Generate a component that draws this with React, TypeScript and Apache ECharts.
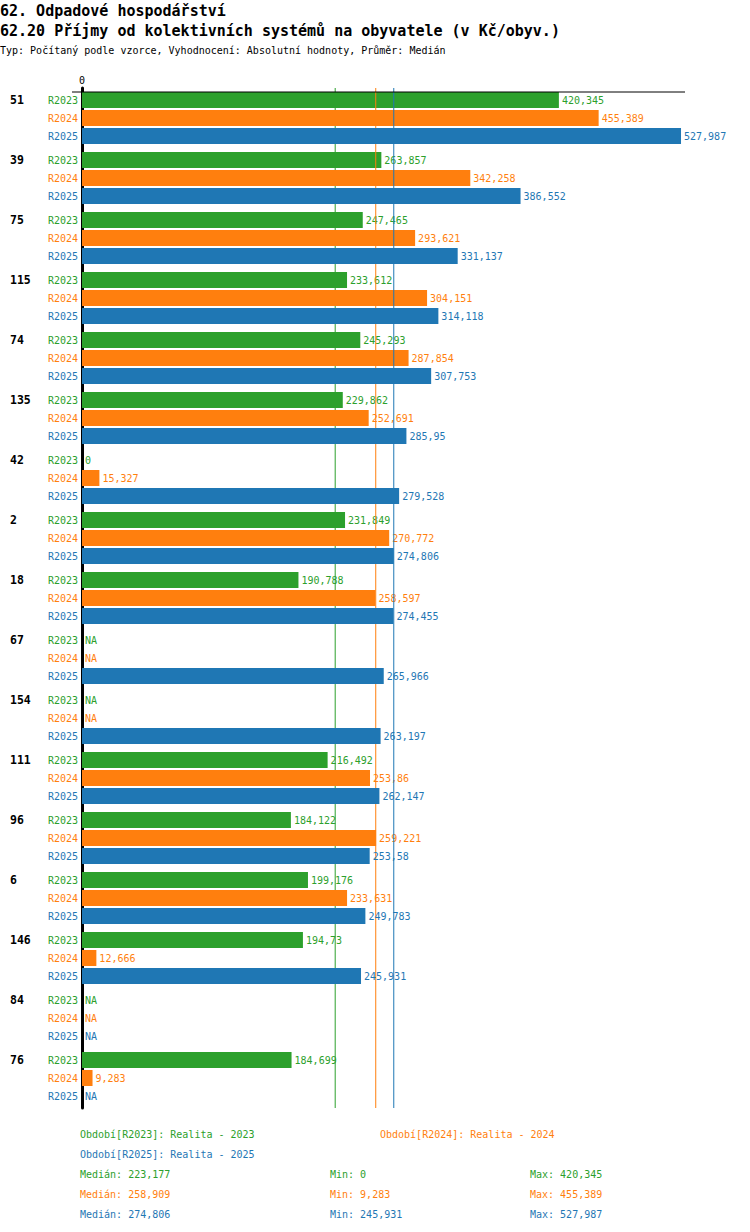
import React, { useEffect, useRef } from 'react';
import * as echarts from 'echarts';

const MONO = '"DejaVu Sans Mono", "Liberation Mono", monospace';

const GROUPS = ['51', '39', '75', '115', '74', '135', '42', '2', '18', '67', '154', '111', '96', '6', '146', '84', '76'];
const R2023 = [420.345, 263.857, 247.465, 233.612, 245.293, 229.862, 0, 231.849, 190.788, null, null, 216.492, 184.122, 199.176, 194.73, null, 184.699];
const R2024 = [455.389, 342.258, 293.621, 304.151, 287.854, 252.691, 15.327, 270.772, 258.597, null, null, 253.86, 259.221, 233.631, 12.666, null, 9.283];
const R2025 = [527.987, 386.552, 331.137, 314.118, 307.753, 285.95, 279.528, 274.806, 274.455, 265.966, 263.197, 262.147, 253.58, 249.783, 245.931, null, null];

const PERIODS = [
    { key: 'R2023', name: 'Realita - 2023', color: '#2ca02c', data: R2023 },
    { key: 'R2024', name: 'Realita - 2024', color: '#ff7f0e', data: R2024 },
    { key: 'R2025', name: 'Realita - 2025', color: '#1f77b4', data: R2025 },
];

const TITLE = '62. Odpadové hospodářství';
const SUBTITLE = '62.20 Příjmy od kolektivních systémů na obyvatele (v Kč/obyv.)';
const INFO = 'Typ: Počítaný podle vzorce, Vyhodnocení: Absolutní hodnoty, Průměr: Medián';

const fmt = (v: number | null) => (v == null ? 'NA' : String(v).replace('.', ','));

const valid = (arr: (number | null)[]) => arr.filter((v): v is number => v != null).sort((a, b) => a - b);
const median = (arr: (number | null)[]) => {
    const s = valid(arr);
    const m = Math.floor(s.length / 2);
    return s.length % 2 ? s[m] : Math.round(((s[m - 1] + s[m]) / 2) * 1000) / 1000;
};

const App: React.FC = () => {
    const chartRef = useRef<HTMLDivElement>(null);

    useEffect(() => {
        document.body.style.margin = '0';
        if (!chartRef.current) return;
        const chart = echarts.init(chartRef.current, undefined, { renderer: 'svg' });

        const series: any[] = [];
        PERIODS.forEach((p, i) => {
            // invisible zero bar that only carries the period tag on the left
            series.push({
                type: 'bar',
                name: p.key + '-tag',
                stack: p.key,
                barWidth: 16,
                z: 2 + 2 * i,
                silent: true,
                data: GROUPS.map(() => 0),
                itemStyle: { color: 'transparent' },
                label: {
                    show: true,
                    position: 'left',
                    distance: 4,
                    formatter: p.key,
                    color: p.color,
                    fontFamily: MONO,
                    fontSize: 10,
                },
            });
            series.push({
                type: 'bar',
                name: p.key,
                stack: p.key,
                barWidth: 16,
                barGap: '12.5%',
                z: 2 + 2 * i,
                data: p.data.map((v) => (v == null ? 0 : v)),
                itemStyle: { color: p.color },
                label: {
                    show: true,
                    position: 'right',
                    distance: 3,
                    formatter: (q: any) => fmt(p.data[q.dataIndex]),
                    color: p.color,
                    fontFamily: MONO,
                    fontSize: 10,
                },
            });
            // median line, sitting between this period's bars and the next period's
            series.push({
                type: 'line',
                name: p.key + '-median',
                yAxisIndex: 1,
                z: 1 + 2 * i,
                silent: true,
                symbol: 'none',
                data: [
                    [median(p.data), 0],
                    [median(p.data), 1],
                ],
                lineStyle: { color: p.color, width: 1, type: 'solid' },
            });
        });

        const legendText = (text: string, x: number, y: number, color: string) => ({
            type: 'text',
            x,
            y,
            style: { text, fill: color, font: `10px ${MONO}`, verticalAlign: 'middle' },
        });

        const legend: any[] = [
            legendText(`Období[${PERIODS[0].key}]: ${PERIODS[0].name}`, 80, 1134, PERIODS[0].color),
            legendText(`Období[${PERIODS[1].key}]: ${PERIODS[1].name}`, 380, 1134, PERIODS[1].color),
            legendText(`Období[${PERIODS[2].key}]: ${PERIODS[2].name}`, 80, 1154, PERIODS[2].color),
        ];
        PERIODS.forEach((p, i) => {
            const s = valid(p.data);
            const y = 1174 + i * 20;
            legend.push(legendText(`Medián: ${fmt(median(p.data))}`, 80, y, p.color));
            legend.push(legendText(`Min: ${fmt(s[0])}`, 330, y, p.color));
            legend.push(legendText(`Max: ${fmt(s[s.length - 1])}`, 530, y, p.color));
        });

        const option: echarts.EChartsOption = {
            animation: false,
            title: [
                { text: TITLE, left: 0, top: 3, padding: 0, textStyle: { fontFamily: MONO, fontSize: 15, fontWeight: 'bold', color: '#000' } },
                { text: SUBTITLE, left: 0, top: 23, padding: 0, textStyle: { fontFamily: MONO, fontSize: 15, fontWeight: 'bold', color: '#000' } },
                { text: INFO, left: 0, top: 45, padding: 0, textStyle: { fontFamily: MONO, fontSize: 10, fontWeight: 'normal', color: '#000' } },
            ],
            grid: { left: 82, right: 65, top: 88, height: 1020 },
            xAxis: {
                type: 'value',
                position: 'top',
                min: 0,
                max: 531.5,
                splitLine: { show: false },
                axisTick: { show: false },
                axisLine: { show: false },
                axisLabel: {
                    formatter: (v: number) => (v === 0 ? '0' : ''),
                    fontFamily: MONO,
                    fontSize: 10,
                    color: '#000',
                    margin: 3,
                },
            },
            yAxis: [
                {
                    type: 'category',
                    data: GROUPS,
                    inverse: true,
                    axisTick: { show: false },
                    axisLine: { show: true, lineStyle: { color: '#000', width: 3 } },
                    axisLabel: {
                        align: 'left',
                        margin: 72,
                        fontFamily: MONO,
                        fontWeight: 'bold',
                        fontSize: 11.5,
                        color: '#000',
                        lineHeight: 18,
                        // first line sits level with the first bar of the group
                        formatter: (v: string) => `${v}\n \n `,
                    },
                },
                { type: 'value', min: 0, max: 1, show: false },
            ],
            graphic: [
                { type: 'line', shape: { x1: 72, y1: 92, x2: 685, y2: 92 }, style: { stroke: '#000', lineWidth: 1 }, z: 10 },
                ...legend,
            ],
            series,
        };

        chart.setOption(option);

        return () => {
            chart.dispose();
        };
    }, []);

    return <div ref={chartRef} style={{ width: '750px', height: '1232px' }} />;
};

export default App;
